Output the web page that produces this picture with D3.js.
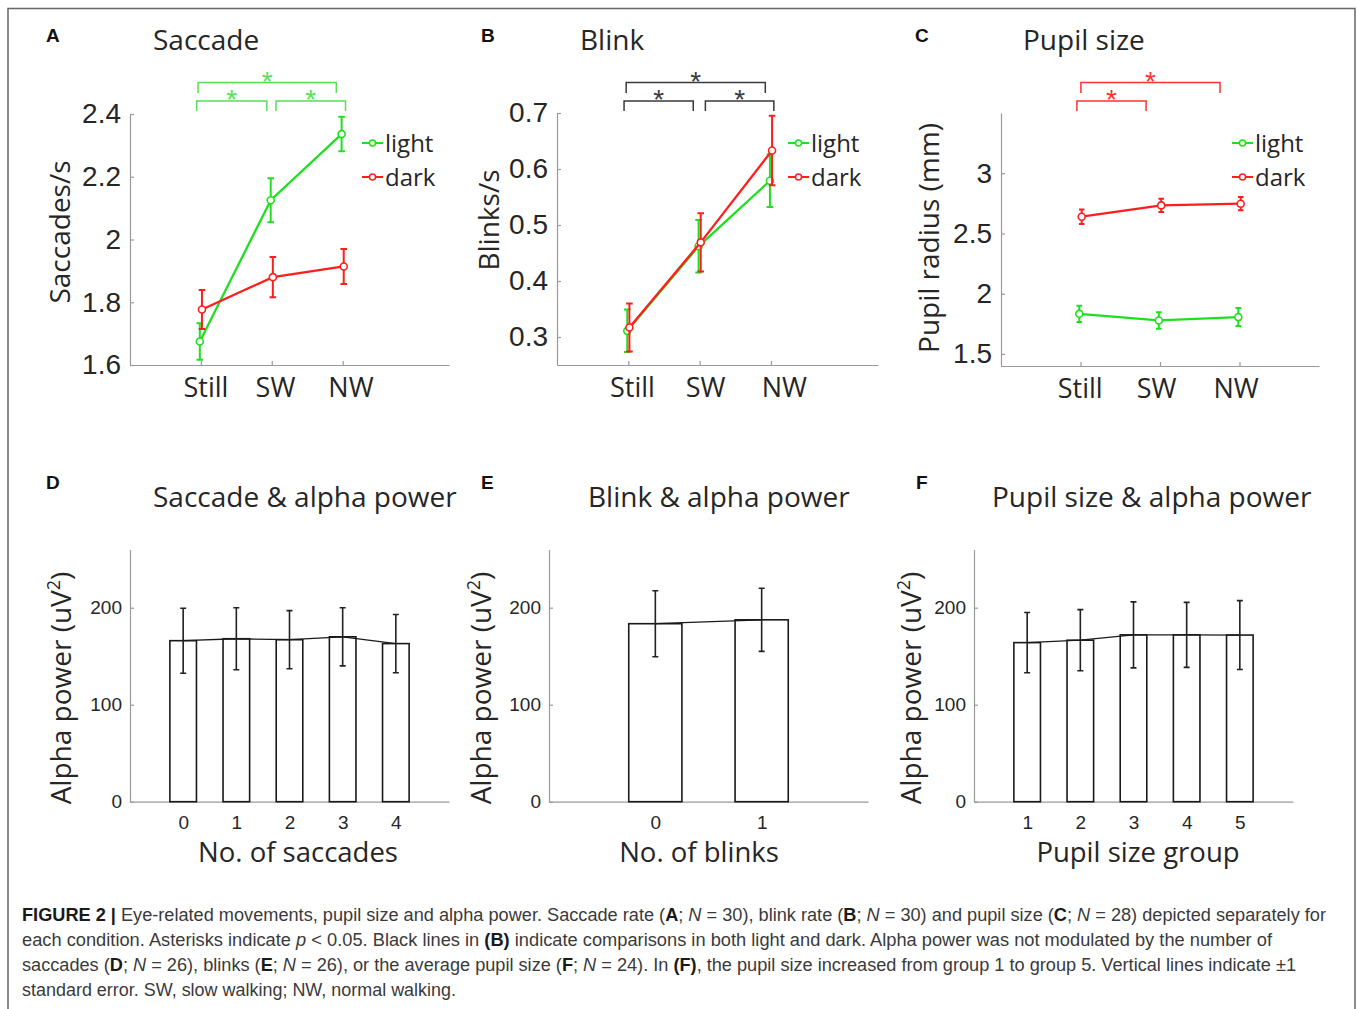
<!DOCTYPE html>
<html lang="en">
<head>
<meta charset="utf-8">
<title>Figure 2</title>
<script src="https://cdnjs.cloudflare.com/ajax/libs/d3/7.8.5/d3.min.js"></script>
<style>
  body { margin: 0; background: #fff; }
  text { white-space: pre; }
</style>
</head>
<body>
<script>
// conditions for the top row
var conds = ["Still", "SW", "NW"];

// A: saccade rate (saccades/s)
var saccLight = [1.675, 2.125, 2.336];
var saccLightErr = [0.058, 0.070, 0.055];
var saccDark = [1.777, 1.880, 1.914];
var saccDarkErr = [0.062, 0.064, 0.056];

// B: blink rate (blinks/s)
var blinkLight = [0.311, 0.462, 0.579];
var blinkLightErr = [0.038, 0.047, 0.047];
var blinkDark = [0.317, 0.469, 0.633];
var blinkDarkErr = [0.043, 0.052, 0.062];

// C: pupil radius (mm)
var pupilLight = [1.833, 1.778, 1.806];
var pupilLightErr = [0.068, 0.068, 0.075];
var pupilDark = [2.639, 2.733, 2.747];
var pupilDarkErr = [0.060, 0.055, 0.055];

// D: alpha power by no. of saccades
var saccBins = [0, 1, 2, 3, 4];
var saccAlpha = [166, 168, 167, 170, 163];
var saccAlphaErr = [33.5, 32, 30, 30, 30];

// E: alpha power by no. of blinks
var blinkBins = [0, 1];
var blinkAlpha = [183.5, 187.5];
var blinkAlphaErr = [34, 32.5];

// F: alpha power by pupil size group
var pupilGroups = [1, 2, 3, 4, 5];
var pupilAlpha = [164, 166.5, 172, 172, 171.8];
var pupilAlphaErr = [31, 31.5, 34, 33.5, 35.5];

// tick labels
var saccTicks = [1.6, 1.8, 2, 2.2, 2.4];
var blinkTicks = [0.3, 0.4, 0.5, 0.6, 0.7];
var pupilTicks = [1.5, 2, 2.5, 3];
var alphaTicks = [0, 100, 200];

var w = 1357, h = 1009;
var green = "#1fe01f", red = "#ff1e1e";
var ink = "#262626", axisCol = "#9a9a9a";
var numFont = "'Liberation Sans', Arial, sans-serif";
var labFont = "'Open Sans', 'Noto Sans', sans-serif";

var svg = d3.select("body").append("svg")
    .attr("width", w)
    .attr("height", h);

// frame
svg.append("path")
    .attr("d", "M8,1009V8.5H1355V1009")
    .attr("fill", "none")
    .attr("stroke", "#666")
    .attr("stroke-width", 1.5);

function panelText(p, baseY, labBase) {
  svg.append("text")
      .attr("x", p.labX).attr("y", labBase)
      .attr("font-family", numFont).attr("font-weight", "bold")
      .attr("font-size", 19).attr("fill", "#111")
      .text(p.lab);
  svg.append("text")
      .attr("x", p.titleX).attr("y", baseY)
      .attr("font-family", labFont).attr("font-size", 28).attr("fill", ink)
      .text(p.title);
}

function drawLinePanel(p) {
  var x = d3.scaleLinear().domain(p.xdom).range([p.left, p.right]);
  var y = d3.scaleLinear().domain(p.ydom).range([p.bottom, p.top]);
  var g = svg.append("g");

  var ya = g.append("g")
      .attr("transform", "translate(" + p.left + ",0)")
      .call(d3.axisLeft(y).tickValues(p.yticks).tickFormat(d3.format("~g"))
        .tickSizeInner(-4).tickSizeOuter(0).tickPadding(9));
  var xa = g.append("g")
      .attr("transform", "translate(0," + p.bottom + ")")
      .call(d3.axisBottom(x).tickValues([1, 2, 3])
        .tickFormat(function(d) { return conds[d - 1]; })
        .tickSizeInner(-4).tickSizeOuter(0).tickPadding(13));
  ya.selectAll("text").attr("font-family", numFont).attr("font-size", 28).attr("fill", ink);
  xa.selectAll("text").attr("font-family", labFont).attr("font-size", 27).attr("fill", ink)
      .attr("x", function(d, i) { return x(p.labelPos[i]) - x(d); });
  g.selectAll(".domain, .tick line").attr("stroke", axisCol).attr("stroke-width", 1.2);

  var series = [
    {vals: p.light, err: p.lightErr, col: green, dx: -0.015},
    {vals: p.dark, err: p.darkErr, col: red, dx: 0.015}
  ];
  series.forEach(function(s) {
    var pts = s.vals.map(function(v, i) { return {x: i + 1 + s.dx, v: v, e: s.err[i]}; });
    g.append("path").datum(pts)
        .attr("d", d3.line().x(function(d) { return x(d.x); }).y(function(d) { return y(d.v); }))
        .attr("fill", "none").attr("stroke", s.col).attr("stroke-width", 2.3);
    g.selectAll(null).data(pts).enter().append("path")
        .attr("d", function(d) {
          var cx = x(d.x), y0 = y(d.v - d.e), y1 = y(d.v + d.e), c = p.cap;
          return "M" + cx + "," + y0 + "V" + y1 +
                 "M" + (cx - c) + "," + y1 + "h" + (2 * c) +
                 "M" + (cx - c) + "," + y0 + "h" + (2 * c);
        })
        .attr("fill", "none").attr("stroke", s.col).attr("stroke-width", 2);
    g.selectAll(null).data(pts).enter().append("circle")
        .attr("cx", function(d) { return x(d.x); })
        .attr("cy", function(d) { return y(d.v); })
        .attr("r", 3.5)
        .attr("fill", "#fff").attr("stroke", s.col).attr("stroke-width", 1.6);
  });

  // legend
  [["light", green], ["dark", red]].forEach(function(it, i) {
    var ly = 143 + i * 34;
    g.append("line")
        .attr("x1", p.legX).attr("x2", p.legX + 21).attr("y1", ly).attr("y2", ly)
        .attr("stroke", it[1]).attr("stroke-width", 2);
    g.append("circle")
        .attr("cx", p.legX + 10.5).attr("cy", ly).attr("r", 3)
        .attr("fill", "#fff").attr("stroke", it[1]).attr("stroke-width", 1.5);
    g.append("text")
        .attr("x", p.legX + 23).attr("y", ly + 9)
        .attr("font-family", labFont).attr("font-size", 24).attr("fill", ink)
        .text(it[0]);
  });

  // significance brackets
  p.brackets.forEach(function(b) {
    var yy = b[2] ? 82.5 : 101, leg = b[2] ? 93 : 111, star = b[2] ? 75 : 93;
    g.append("path")
        .attr("d", "M" + x(b[0]) + "," + leg + "V" + yy + "H" + x(b[1]) + "V" + leg)
        .attr("fill", "none").attr("stroke", p.brCol).attr("stroke-width", 1.5);
    g.append("text")
        .attr("x", (x(b[0]) + x(b[1])) / 2).attr("y", star + 16)
        .attr("text-anchor", "middle")
        .attr("font-family", numFont).attr("font-size", 28).attr("fill", p.brCol)
        .text("*");
  });

  g.append("text")
      .attr("transform", "translate(" + p.ylabX + "," + p.ylabY + ") rotate(-90)")
      .attr("text-anchor", "middle")
      .attr("font-family", labFont).attr("font-size", 28).attr("fill", ink)
      .text(p.ylabel);

  panelText(p, 50, 42);
}

function drawBarPanel(p) {
  var x = d3.scaleLinear().domain(p.xdom).range([p.left, p.right]);
  var y = d3.scaleLinear().domain([0, 260]).range([801.7, 549.5]);
  var g = svg.append("g");

  var ya = g.append("g")
      .attr("transform", "translate(" + p.left + ",0)")
      .call(d3.axisLeft(y).tickValues(alphaTicks)
        .tickSizeInner(-4).tickSizeOuter(0).tickPadding(8));
  var xa = g.append("g")
      .attr("transform", "translate(0,801.7)")
      .call(d3.axisBottom(x).tickValues(p.cats).tickFormat(d3.format("d"))
        .tickSizeInner(-4).tickSizeOuter(0).tickPadding(14));
  ya.selectAll("text").attr("font-family", numFont).attr("font-size", 19).attr("fill", ink);
  xa.selectAll("text").attr("font-family", numFont).attr("font-size", 19).attr("fill", ink);
  g.selectAll(".domain, .tick line").attr("stroke", axisCol).attr("stroke-width", 1.2);

  var pts = p.cats.map(function(c, i) { return {c: c, v: p.vals[i], e: p.err[i]}; });

  g.selectAll(null).data(pts).enter().append("rect")
      .attr("x", function(d) { return x(d.c - 0.25); })
      .attr("y", function(d) { return y(d.v); })
      .attr("width", function(d) { return x(d.c + 0.25) - x(d.c - 0.25); })
      .attr("height", function(d) { return y(0) - y(d.v); })
      .attr("fill", "#fff").attr("stroke", "#1a1a1a").attr("stroke-width", 1.6);

  g.append("path").datum(pts)
      .attr("d", d3.line().x(function(d) { return x(d.c); }).y(function(d) { return y(d.v); }))
      .attr("fill", "none").attr("stroke", "#1a1a1a").attr("stroke-width", 1.3);

  g.selectAll(null).data(pts).enter().append("path")
      .attr("d", function(d) {
        var cx = x(d.c), y0 = y(d.v - d.e), y1 = y(d.v + d.e);
        return "M" + cx + "," + y0 + "V" + y1 +
               "M" + (cx - 3) + "," + y1 + "h6" +
               "M" + (cx - 3) + "," + y0 + "h6";
      })
      .attr("fill", "none").attr("stroke", "#222").attr("stroke-width", 1.6);

  g.append("text")
      .attr("x", p.xlabX).attr("y", 862)
      .attr("text-anchor", "middle")
      .attr("font-family", labFont).attr("font-size", 27.5).attr("fill", ink)
      .text(p.xlabel);

  var yl = g.append("text")
      .attr("transform", "translate(" + p.ylabX + ",688) rotate(-90)")
      .attr("text-anchor", "middle")
      .attr("font-family", labFont).attr("font-size", 28).attr("fill", ink);
  yl.append("tspan").text("Alpha power (uV");
  yl.append("tspan").attr("dy", -11).attr("font-size", 18).text("2");
  yl.append("tspan").attr("dy", 11).text(")");

  panelText(p, 507, 489);
}

drawLinePanel({
  lab: "A", labX: 46, title: "Saccade", titleX: 153,
  left: 130, right: 449, top: 114, bottom: 365,
  xdom: [0, 4.5], ydom: [1.6, 2.4], yticks: saccTicks,
  light: saccLight, lightErr: saccLightErr, dark: saccDark, darkErr: saccDarkErr,
  labelPos: [1.065, 2.045, 3.11], cap: 3.3,
  legX: 362, ylabel: "Saccades/s", ylabX: 70, ylabY: 232,
  brCol: "#55e055",
  brackets: [[0.94, 1.93, 0], [2.06, 3.04, 0], [0.96, 2.91, 1]]
});

drawLinePanel({
  lab: "B", labX: 481, title: "Blink", titleX: 580,
  left: 557, right: 878, top: 113, bottom: 365,
  xdom: [0, 4.5], ydom: [0.25, 0.7], yticks: blinkTicks,
  light: blinkLight, lightErr: blinkLightErr, dark: blinkDark, darkErr: blinkDarkErr,
  labelPos: [1.05, 2.075, 3.18], cap: 3.3,
  legX: 788, ylabel: "Blinks/s", ylabX: 499, ylabY: 220,
  brCol: "#3a3a3a",
  brackets: [[0.94, 1.91, 0], [2.08, 3.04, 0], [0.97, 2.92, 1]]
});

drawLinePanel({
  lab: "C", labX: 915, title: "Pupil size", titleX: 1023,
  left: 1001, right: 1319, top: 113, bottom: 366,
  xdom: [0, 4], ydom: [1.4, 3.5], yticks: pupilTicks,
  light: pupilLight, lightErr: pupilLightErr, dark: pupilDark, darkErr: pupilDarkErr,
  labelPos: [0.99, 1.95, 2.95], cap: 2.8,
  legX: 1232, ylabel: "Pupil radius (mm)", ylabX: 939, ylabY: 238,
  brCol: "#ff3030",
  brackets: [[0.955, 1.825, 0], [1.005, 2.755, 1]]
});

drawBarPanel({
  lab: "D", labX: 46, title: "Saccade & alpha power", titleX: 153,
  left: 130, right: 449, xdom: [-1, 5],
  cats: saccBins, vals: saccAlpha, err: saccAlphaErr,
  xlabel: "No. of saccades", xlabX: 298, ylabX: 71
});

drawBarPanel({
  lab: "E", labX: 481, title: "Blink & alpha power", titleX: 588,
  left: 549, right: 868, xdom: [-1, 2],
  cats: blinkBins, vals: blinkAlpha, err: blinkAlphaErr,
  xlabel: "No. of blinks", xlabX: 699, ylabX: 491
});

drawBarPanel({
  lab: "F", labX: 916, title: "Pupil size & alpha power", titleX: 992,
  left: 974, right: 1293, xdom: [0, 6],
  cats: pupilGroups, vals: pupilAlpha, err: pupilAlphaErr,
  xlabel: "Pupil size group", xlabX: 1138, ylabX: 921
});

// caption: [text, style] segments, b = bold, i = italic
var captionLines = [
  [["FIGURE 2 | ", "b"], ["Eye-related movements, pupil size and alpha power. Saccade rate (", ""], ["A", "b"], ["; ", ""], ["N", "i"],
   [" = 30), blink rate (", ""], ["B", "b"], ["; ", ""], ["N", "i"], [" = 30) and pupil size (", ""], ["C", "b"], ["; ", ""], ["N", "i"],
   [" = 28) depicted separately for", ""]],
  [["each condition. Asterisks indicate ", ""], ["p", "i"], [" < 0.05. Black lines in ", ""], ["(B)", "b"],
   [" indicate comparisons in both light and dark. Alpha power was not modulated by the number of", ""]],
  [["saccades (", ""], ["D", "b"], ["; ", ""], ["N", "i"], [" = 26), blinks (", ""], ["E", "b"], ["; ", ""], ["N", "i"],
   [" = 26), or the average pupil size (", ""], ["F", "b"], ["; ", ""], ["N", "i"], [" = 24). In ", ""], ["(F)", "b"],
   [", the pupil size increased from group 1 to group 5. Vertical lines indicate \u00b11", ""]],
  [["standard error. SW, slow walking; NW, normal walking.", ""]]
];
var captionWidths = [1304, 1250, 1274, 434];

captionLines.forEach(function(line, i) {
  var t = svg.append("text")
      .attr("x", 22).attr("y", 921 + i * 25)
      .attr("font-family", "'Liberation Sans Narrow', 'Liberation Sans', Arial, sans-serif")
      .attr("font-size", 17.5).attr("fill", "#3a3a3a")
      .attr("textLength", captionWidths[i])
      .attr("lengthAdjust", "spacingAndGlyphs");
  line.forEach(function(seg) {
    var ts = t.append("tspan").text(seg[0]);
    if (seg[1] === "b") ts.attr("font-weight", "bold").attr("fill", "#1a1a1a");
    if (seg[1] === "i") ts.attr("font-style", "italic");
  });
});
</script>
</body>
</html>
